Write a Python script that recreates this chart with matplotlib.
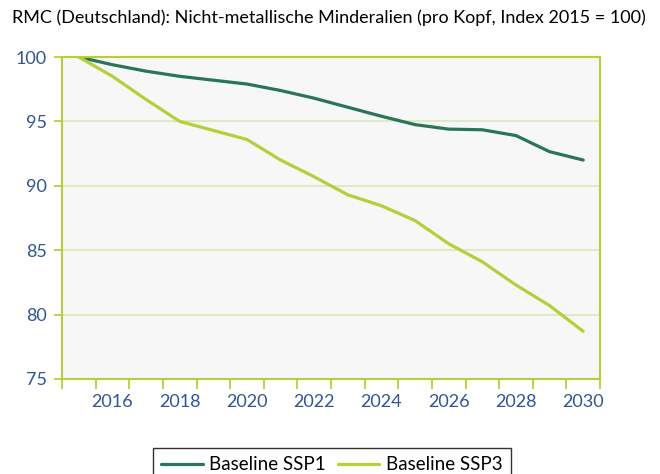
import matplotlib
matplotlib.use("Agg")
import matplotlib.pyplot as plt
import numpy as np

years = list(range(2015, 2031))
ssp1 = [100, 99.4, 98.9, 98.5, 98.2, 97.9, 97.4, 96.8, 96.1, 95.4, 94.75, 94.4, 94.35, 93.9, 92.65, 92.0]
ssp3 = [100, 98.5, 96.7, 95.0, 94.3, 93.6, 92.0, 90.7, 89.3, 88.45, 87.3, 85.5, 84.1, 82.3, 80.7, 78.7]
series_names = ["Baseline SSP1", "Baseline SSP3"]
title = "RMC (Deutschland): Nicht-metallische Minderalien (pro Kopf, Index 2015 = 100)"
yticks = [75, 80, 85, 90, 95, 100]
xlabels = [2016, 2018, 2020, 2022, 2024, 2026, 2028, 2030]

c1 = "#2A7458"
c3 = "#B5CF3A"
border = "#B5CF3A"
grid_c = "#D9EBBE"
tick_c = "#2F5597"

plt.rcParams['font.family'] = ['Lato', 'DejaVu Sans']

fig = plt.figure(figsize=(6.6, 4.74), dpi=100)
W, H = 660, 474
ax = fig.add_axes([62 / W, 1 - 379 / H, (600 - 62) / W, (379 - 57) / H])
ax.set_facecolor("#F7F7F7")

ax.plot(years, ssp1, color=c1, lw=2.3, label=series_names[0], solid_capstyle='round')
ax.plot(years, ssp3, color=c3, lw=2.3, label=series_names[1], solid_capstyle='round')

ax.set_xlim(2014.5, 2030.5)
ax.set_ylim(75, 100)
ax.set_yticks(yticks)
ax.set_yticklabels([str(v) for v in yticks])
for v in yticks[1:-1]:
    ax.axhline(v, color=grid_c, lw=1.3, zorder=0)

ax.set_xticks(xlabels)
ax.set_xticklabels([str(v) for v in xlabels])
ax.set_xticks(np.arange(2014.5, 2031, 1.0), minor=True)
ax.tick_params(axis='x', which='major', length=0, pad=11, labelsize=13, labelcolor=tick_c)
ax.tick_params(axis='x', which='minor', length=7, width=1.3, color=border, direction='out')
ax.tick_params(axis='y', which='major', length=6, width=1.3, color=border, pad=5,
               labelsize=13, labelcolor=tick_c)

for s in ax.spines.values():
    s.set_color(border)
    s.set_linewidth(1.5)

fig.text(12 / W, 1 - 18 / H, title, fontsize=13, color="black", va='center', ha='left')

leg = fig.legend(loc='upper center', bbox_to_anchor=(332 / W, 1 - 448 / H), ncol=2,
                 frameon=True, fancybox=False, edgecolor='black', fontsize=13.5,
                 handlelength=2.2, columnspacing=0.65, handletextpad=0.35,
                 borderpad=0.45, borderaxespad=0)
leg.get_frame().set_linewidth(1.0)

fig.savefig("out.png", dpi=100)
